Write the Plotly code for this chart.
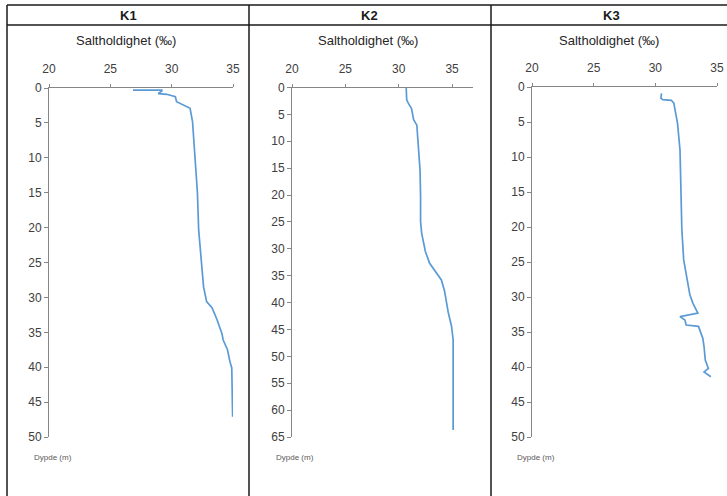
import plotly.graph_objects as go

W, H = 727, 496

# ---- data (salinity ‰ vs depth m) ----
k1_salinity = [26.85, 29.2, 29.2, 28.9, 29.6, 30.3, 30.4, 31.5, 31.7, 31.9, 32.1, 32.2, 32.4, 32.6, 32.85, 33.3, 33.7, 34.1, 34.2, 34.55, 34.75, 34.9, 34.97]
k1_depth = [0.3, 0.3, 0.45, 0.8, 0.9, 1.25, 1.96, 2.9, 4.8, 10.0, 15.0, 20.3, 25.1, 28.5, 30.6, 31.5, 33.2, 35.2, 36.1, 37.5, 39.2, 40.1, 47.1]

k2_salinity = [30.7, 30.75, 30.9, 31.2, 31.4, 31.7, 31.8, 32.0, 32.05, 32.05, 32.15, 32.5, 32.9, 33.55, 34.0, 34.3, 34.65, 34.95, 35.1, 35.1]
k2_depth = [0.0, 2.3, 2.9, 3.9, 6.0, 7.0, 9.8, 15.4, 20.3, 24.9, 27.1, 30.5, 32.7, 34.5, 35.8, 37.9, 41.9, 44.4, 46.9, 63.7]

k3_salinity = [30.5, 30.45, 30.6, 31.3, 31.5, 31.8, 32.0, 32.05, 32.15, 32.3, 32.6, 32.8, 33.05, 33.45, 32.0, 32.4, 32.5, 33.5, 33.7, 33.85, 33.95, 34.05, 34.3, 33.95, 34.5]
k3_depth = [0.9, 1.6, 1.8, 1.9, 2.3, 5.2, 9.0, 13.3, 20.4, 24.7, 27.6, 29.7, 30.9, 32.3, 32.8, 33.3, 34.0, 34.2, 35.2, 35.9, 37.1, 39.0, 40.2, 40.7, 41.4]

panels = ["K1", "K2", "K3"]
x_ticks = [20, 25, 30, 35]
x_title = "Saltholdighet (‰)"
y_title = "Dypde (m)"

# ---- layout geometry (pixels) ----
def px(x):
    return x / W

def py(y):
    return 1 - y / H

geo = [
    # x0, x1, xmax, ytop, ybot, ymax, center, dypde_x
    (49, 233, 35, 88, 437, 50, 128, 32),
    (292, 473.4, 37, 87.5, 437, 65, 370, 274),
    (532, 717, 35, 87, 437, 50, 611, 515),
]

fig = go.Figure()
data = [(k1_salinity, k1_depth), (k2_salinity, k2_depth), (k3_salinity, k3_depth)]
line_color = "#5B9BD5"
axis_color = "#868686"
tick_font = dict(family="Liberation Sans, Arial, sans-serif", size=12, color="#404040")

for i, (sal, dep) in enumerate(data):
    suffix = "" if i == 0 else str(i + 1)
    fig.add_trace(go.Scatter(x=sal, y=dep, mode="lines", line=dict(color=line_color, width=1.7),
                             xaxis="x" + suffix, yaxis="y" + suffix, showlegend=False, hoverinfo="x+y"))
    x0, x1, xmax, ytop, ybot, ymax, cx, dx = geo[i]
    fig.layout["xaxis" + suffix] = dict(
        domain=[px(x0), px(x1)], range=[20, xmax], side="top", anchor="y" + suffix,
        tickvals=x_ticks, ticks="outside", ticklen=3, tickcolor=axis_color,
        showline=True, linecolor=axis_color, linewidth=1, showgrid=False, zeroline=False,
        tickfont=tick_font, ticklabelstandoff=6, automargin=False,
    )
    fig.layout["yaxis" + suffix] = dict(
        domain=[py(ybot), py(ytop)], range=[ymax, 0], anchor="x" + suffix,
        dtick=5, ticks="outside", ticklen=4, tickcolor=axis_color,
        showline=True, linecolor=axis_color, linewidth=1, showgrid=False, zeroline=False,
        tickfont=tick_font, automargin=False,
    )
    fig.add_annotation(text="<b>" + panels[i] + "</b>", x=px(cx), y=py(15), xref="paper", yref="paper",
                       showarrow=False, xanchor="center", yanchor="middle",
                       font=dict(family="Liberation Sans, Arial, sans-serif", size=13, color="#1a1a1a"))
    fig.add_annotation(text=x_title, x=px(cx - 2), y=py(40), xref="paper", yref="paper",
                       showarrow=False, xanchor="center", yanchor="middle",
                       font=dict(family="Liberation Sans, Arial, sans-serif", size=13, color="#262626"))
    fig.add_annotation(text=y_title, x=px(dx), y=py(457), xref="paper", yref="paper",
                       showarrow=False, xanchor="left", yanchor="middle",
                       font=dict(family="Liberation Sans, Arial, sans-serif", size=8, color="#595959"))

# table borders
border = dict(color="#1a1a1a", width=1.5)
shapes = [
    dict(type="line", xref="paper", yref="paper", x0=px(7), x1=1, y0=py(5), y1=py(5), line=border),
    dict(type="line", xref="paper", yref="paper", x0=px(7), x1=1, y0=py(25), y1=py(25), line=border),
]
for vx in [7, 249, 491]:
    shapes.append(dict(type="line", xref="paper", yref="paper", x0=px(vx), x1=px(vx), y0=py(5), y1=0, line=border))

fig.update_layout(width=W, height=H, margin=dict(l=0, r=0, t=0, b=0, autoexpand=False),
                  paper_bgcolor="white", plot_bgcolor="white", shapes=shapes)

fig.write_html("out.html", config={"displayModeBar": False},
               post_script="document.body.style.margin='0';document.body.style.overflow='hidden';")
